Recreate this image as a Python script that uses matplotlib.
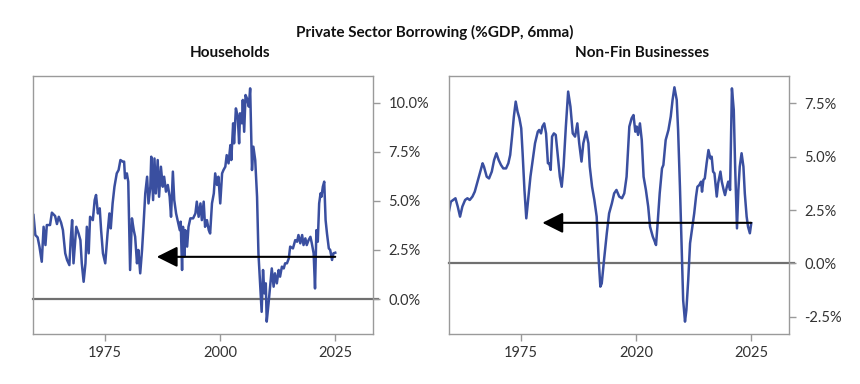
import matplotlib.pyplot as plt

plt.rcParams['font.family'] = ['Lato', 'DejaVu Sans']

# Households borrowing (%GDP, 6mma)
hh_year = [1959.4, 1959.8, 1960.3, 1960.7, 1961.2, 1961.6, 1962.0, 1962.3, 1963.0, 1963.4,
           1964.1, 1964.5, 1964.9, 1965.4, 1965.8, 1966.3, 1966.7, 1967.2, 1967.5, 1967.8,
           1968.1, 1968.7, 1969.2, 1969.6, 1969.9, 1970.3, 1970.7, 1971.0, 1971.4, 1971.7,
           1972.3, 1972.7, 1973.0, 1973.4, 1973.8, 1974.1, 1974.5, 1975.0, 1975.5, 1975.9,
           1976.2, 1976.6, 1977.0, 1977.5, 1977.9, 1978.3, 1978.8, 1979.1, 1979.3, 1979.7,
           1980.0, 1980.4, 1980.8, 1981.2, 1981.5, 1981.9, 1982.2, 1982.6, 1983.0, 1983.3,
           1983.7, 1984.1, 1984.4, 1984.8, 1985.0, 1985.4, 1985.7, 1986.0, 1986.4, 1986.7,
           1987.1, 1987.5, 1987.8, 1988.2, 1988.6, 1989.0, 1989.3, 1989.7, 1990.0, 1990.4,
           1990.8, 1991.2, 1991.4, 1991.7, 1991.9, 1992.2, 1992.4, 1992.8, 1993.1, 1993.5,
           1994.1, 1994.6, 1994.9, 1995.3, 1995.7, 1996.0, 1996.4, 1996.7, 1997.1, 1997.5,
           1997.8, 1998.2, 1998.6, 1998.9, 1999.3, 1999.6, 2000.0, 2000.4, 2000.7, 2001.1,
           2001.4, 2001.8, 2002.2, 2002.4, 2002.8, 2003.0, 2003.4, 2003.8, 2004.1, 2004.3,
           2004.7, 2004.9, 2005.2, 2005.5, 2005.8, 2006.2, 2006.5, 2006.9, 2007.2, 2007.6,
           2008.0, 2008.3, 2008.7, 2009.0, 2009.3, 2009.6, 2009.9, 2010.1, 2010.5, 2010.9,
           2011.2, 2011.6, 2011.9, 2012.3, 2012.7, 2013.0, 2013.4, 2013.8, 2014.1, 2014.5,
           2014.9, 2015.2, 2015.8, 2016.3, 2016.7, 2017.0, 2017.4, 2017.8, 2018.1, 2018.5,
           2018.8, 2019.2, 2019.6, 2019.9, 2020.3, 2020.6, 2020.9, 2021.2, 2021.5, 2021.8,
           2022.0, 2022.3, 2022.6, 2022.9, 2023.2, 2023.6, 2023.9, 2024.3, 2024.6, 2025.0]
hh_value = [4.28, 3.26, 3.14, 2.67, 1.90, 3.68, 2.75, 3.77, 3.77, 4.40,
            4.23, 3.82, 4.19, 3.89, 3.51, 2.33, 1.99, 1.73, 3.04, 4.02,
            1.82, 3.68, 3.34, 3.00, 1.82, 0.88, 1.82, 3.68, 2.33, 4.19,
            4.02, 5.04, 5.30, 4.36, 4.62, 3.51, 2.33, 1.82, 3.34, 4.36,
            3.60, 4.87, 5.72, 6.40, 6.57, 7.08, 7.00, 7.00, 6.15, 6.40,
            5.98, 1.48, 4.11, 3.51, 3.17, 1.82, 2.50, 1.31, 2.50, 3.68,
            5.38, 6.23, 4.87, 5.72, 7.25, 5.04, 7.16, 5.38, 7.08, 5.21,
            6.74, 5.72, 6.23, 5.47, 5.81, 5.21, 4.19, 6.49, 5.04, 4.36,
            3.94, 3.51, 3.94, 1.48, 3.68, 2.16, 3.51, 2.67, 3.68, 4.11,
            4.11, 4.36, 4.96, 4.19, 4.87, 4.02, 4.96, 3.68, 4.02, 3.51,
            3.34, 4.87, 5.38, 6.40, 5.81, 6.23, 4.87, 6.40, 6.57, 6.74,
            7.33, 6.91, 7.84, 7.08, 8.95, 7.93, 9.71, 9.29, 7.93, 9.46,
            8.95, 10.14, 8.52, 10.39, 10.22, 9.80, 10.73, 6.57, 7.76, 7.08,
            5.21, 2.33, 0.63, -0.65, 1.48, 0.29, 0.80, -1.15, -0.22, 0.80,
            1.56, 0.63, 1.31, 0.80, 1.48, 1.14, 1.65, 1.56, 1.82, 1.82,
            2.07, 2.67, 2.58, 3.00, 2.92, 3.26, 2.84, 3.26, 2.75, 3.09,
            2.75, 3.00, 3.17, 2.84, 2.33, 0.54, 3.51, 2.92, 4.87, 5.38,
            5.21, 5.72, 5.98, 4.02, 3.34, 2.58, 2.50, 1.99, 2.33, 2.36]

# Non-financial businesses borrowing (%GDP, 6mma)
nf_year = [1959.2, 1959.7, 1960.2, 1960.7, 1961.2, 1961.7, 1962.2, 1962.8, 1963.3, 1963.8,
           1964.4, 1964.9, 1965.5, 1966.0, 1966.6, 1966.9, 1967.5, 1968.0, 1968.6, 1969.1,
           1969.6, 1970.1, 1970.6, 1971.1, 1971.7, 1972.2, 1972.6, 1973.0, 1973.4, 1973.8,
           1974.2, 1974.6, 1975.0, 1975.3, 1975.7, 1976.1, 1976.5, 1977.0, 1977.5, 1978.0,
           1978.6, 1978.9, 1979.3, 1979.6, 1980.0, 1980.4, 1980.8, 1981.1, 1981.4, 1981.7,
           1982.1, 1982.5, 1982.9, 1983.4, 1983.8, 1984.2, 1984.7, 1985.2, 1985.7, 1986.2,
           1986.7, 1987.2, 1987.6, 1988.1, 1988.5, 1989.1, 1989.6, 1989.9, 1990.4, 1990.9,
           1991.4, 1991.8, 1992.2, 1992.5, 1993.0, 1993.6, 1994.1, 1994.7, 1995.2, 1995.7,
           1996.3, 1996.9, 1997.4, 1997.9, 1998.5, 1999.0, 1999.4, 1999.8, 2000.1, 2000.4,
           2000.8, 2001.2, 2001.6, 2002.1, 2002.6, 2003.0, 2003.6, 2003.9, 2004.3, 2004.6,
           2005.1, 2005.6, 2005.9, 2006.4, 2007.0, 2007.5, 2007.9, 2008.3, 2008.8, 2009.1,
           2009.5, 2009.9, 2010.2, 2010.6, 2010.9, 2011.3, 2011.7, 2012.1, 2012.6, 2013.0,
           2013.3, 2013.7, 2014.1, 2014.3, 2014.6, 2014.9, 2015.3, 2015.7, 2016.1, 2016.4,
           2016.7, 2017.0, 2017.5, 2017.8, 2018.3, 2018.6, 2019.0, 2019.3, 2019.7, 2020.0,
           2020.4, 2020.8, 2021.2, 2021.5, 2021.9, 2022.2, 2022.5, 2022.9, 2023.3, 2023.6,
           2024.0, 2024.3, 2024.7, 2025.0]
nf_value = [2.34, 2.89, 2.97, 3.05, 2.66, 2.19, 2.66, 2.97, 3.05, 2.97,
            3.13, 3.36, 3.83, 4.22, 4.69, 4.53, 4.06, 3.98, 4.30, 4.84,
            5.16, 4.84, 4.61, 4.45, 4.45, 4.69, 5.08, 5.94, 6.88, 7.58,
            7.11, 6.80, 6.33, 5.16, 3.44, 2.11, 2.97, 4.06, 4.84, 5.63,
            6.17, 6.25, 6.09, 6.41, 6.56, 6.09, 4.69, 4.69, 4.38, 5.94,
            6.09, 6.02, 5.16, 4.06, 3.59, 4.53, 6.41, 8.05, 7.34, 6.09,
            5.94, 6.56, 5.63, 4.77, 5.63, 6.17, 5.63, 4.53, 3.59, 2.97,
            2.19, 0.31, -1.09, -0.94, 0.16, 1.41, 2.34, 2.81, 3.28, 3.44,
            3.13, 3.05, 3.28, 4.06, 6.41, 6.80, 6.95, 6.17, 6.41, 6.02,
            6.56, 5.78, 4.06, 3.44, 2.66, 1.72, 1.25, 1.09, 0.86, 1.72,
            3.28, 4.45, 4.61, 5.78, 6.25, 6.88, 7.66, 8.25, 7.66, 6.25,
            3.59, 0.47, -1.72, -2.73, -2.19, -0.78, 0.94, 1.56, 2.34, 3.13,
            3.59, 3.67, 3.83, 3.36, 3.91, 3.98, 4.69, 5.31, 4.92, 5.00,
            4.30, 4.22, 3.13, 3.75, 4.30, 3.83, 3.44, 3.20, 3.59, 3.83,
            3.44, 8.20, 7.19, 4.53, 1.64, 3.44, 4.53, 5.16, 4.53, 3.28,
            2.19, 1.72, 1.41, 1.88]

hh_ticks = [0.0, 2.5, 5.0, 7.5, 10.0]
nf_ticks = [-2.5, 0.0, 2.5, 5.0, 7.5]
x_ticks = [1975, 2000, 2025]
hh_xlabels = ['1975', '2000', '2025']
nf_xlabels = ['1975', '2020', '2025']

# arrows: (start year, level, head year)
hh_arrow = (2025, 2.15, 1986.2)
nf_arrow = (2025, 1.9, 1979.6)

line_color = '#3a4fa0'
grey = '#9a9a9a'

fig = plt.figure(figsize=(8.6, 3.84), dpi=100)
ax1 = fig.add_axes([0.0384, 0.1302, 0.3953, 0.6719])
ax2 = fig.add_axes([0.5221, 0.1302, 0.3953, 0.6719])


def style(ax, yticks, xlabels, ylim, arrow, x, y):
    ax.axhline(0, color='#707070', lw=1.6, zorder=1, clip_on=False, xmax=1.015)
    ax.plot(x, y, color=line_color, lw=1.8, zorder=2)
    ax.annotate('', xy=(arrow[2], arrow[1]), xytext=(arrow[0], arrow[1]),
                arrowprops=dict(arrowstyle='-|>,head_length=0.7,head_width=0.35',
                                color='black', lw=1.5, mutation_scale=18,
                                shrinkA=0, shrinkB=0), zorder=3)
    ax.set_xlim(1959.3, 2033.2)
    ax.set_ylim(*ylim)
    ax.set_xticks(x_ticks)
    ax.set_xticklabels(xlabels)
    ax.set_yticks(yticks)
    ax.set_yticklabels([f'{t:.1f}%' for t in yticks])
    ax.yaxis.tick_right()
    for s in ax.spines.values():
        s.set_color(grey)
        s.set_linewidth(1.0)
    ax.tick_params(axis='both', colors=grey, labelcolor='#333333', labelsize=10.5,
                   length=5, width=1.0)
    ax.tick_params(axis='y', pad=6)


style(ax1, hh_ticks, hh_xlabels, (-1.78, 11.36), hh_arrow, hh_year, hh_value)
style(ax2, nf_ticks, nf_xlabels, (-3.31, 8.78), nf_arrow, nf_year, nf_value)

fig.text(0.506, 0.915, 'Private Sector Borrowing (%GDP, 6mma)', ha='center', va='center',
         fontsize=11, fontweight='bold', color='#111111')
fig.text(0.2674, 0.862, 'Households', ha='center', va='center',
         fontsize=11, fontweight='bold', color='#111111')
fig.text(0.7465, 0.862, 'Non-Fin Businesses', ha='center', va='center',
         fontsize=11, fontweight='bold', color='#111111')

fig.savefig('out.png', dpi=100)
